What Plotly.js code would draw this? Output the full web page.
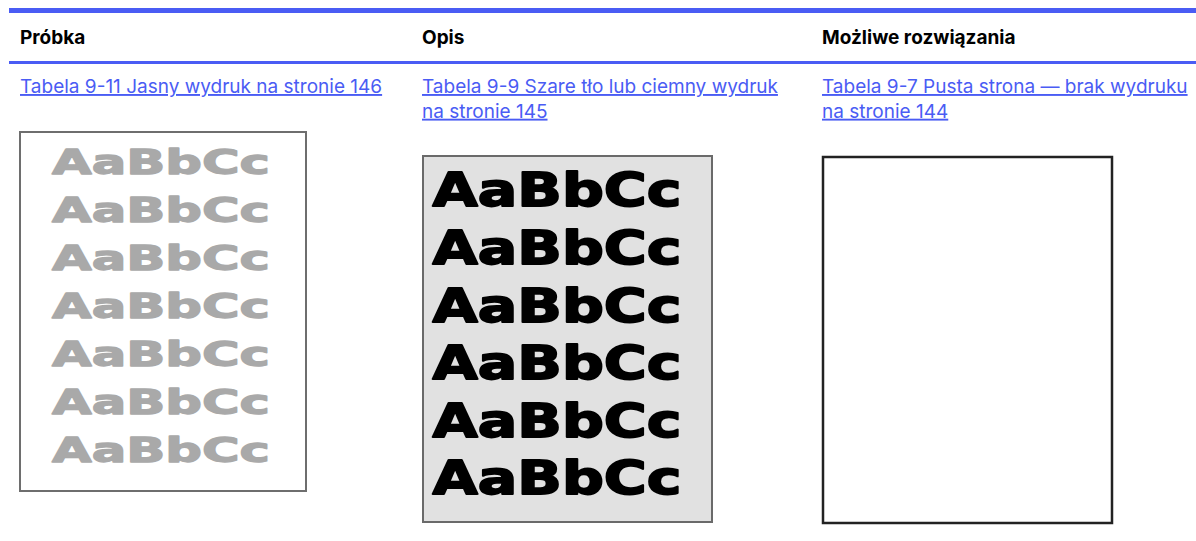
<!DOCTYPE html>
<html>
<head>
<meta charset="utf-8">
<script src="https://cdn.plot.ly/plotly-3.0.1.min.js"></script>
<style>
  html, body { margin: 0; padding: 0; background: #ffffff; }
  #chart { width: 1196px; height: 541px; }
</style>
</head>
<body>
<div id="chart"></div>
<script>
// ---------- DATA ----------
const columnHeaders = ['Próbka', 'Opis', 'Możliwe rozwiązania'];
const linkTexts = [
  'Tabela 9-11 Jasny wydruk na stronie 146',
  'Tabela 9-9 Szare tło lub ciemny wydruk<br>na stronie 145',
  'Tabela 9-7 Pusta strona — brak wydruku<br>na stronie 144'
];
const sampleText = 'AaBbCc';
const sampleRowCounts = [7, 6, 0];
const sampleInk = ['#a9a9a9', '#000000', '#000000'];
const samplePaper = ['#ffffff', '#e1e1e1', '#ffffff'];

// ---------- LAYOUT / STYLE ----------
const W = 1196, H = 541;
const BLUE = '#4a5cf4';
const colX = [18, 420, 820];
const boxes = [
  { x0: 20,  x1: 306,  y0: 132, y1: 491, border: '#6e6e6e', lw: 2 },
  { x0: 423, x1: 712,  y0: 156, y1: 522, border: '#6a6a6a', lw: 2 },
  { x0: 823, x1: 1112, y0: 157, y1: 523, border: '#222222', lw: 2.5 }
];
const rowFirst = [166, 195, 0];
const rowStep = [48, 57.6, 0];
const sampleCenterX = [161, 557, 0];
const sampleFontSize = [34, 46, 0];
const sampleTargetW = [218, 249, 0];
const sampleStroke = [1.3, 1.8, 0];

const traces = [];
const traceCols = [];
sampleRowCounts.forEach((n, c) => {
  if (!n) return;
  const idx = Array.from({ length: n }, (_, i) => i);
  traces.push({
    type: 'scatter',
    mode: 'text',
    x: idx.map(() => sampleCenterX[c]),
    y: idx.map(i => rowFirst[c] + i * rowStep[c]),
    text: idx.map(() => sampleText),
    textposition: 'middle center',
    textfont: { family: 'DejaVu Sans', size: sampleFontSize[c], color: sampleInk[c], weight: 700 },
    hoverinfo: 'skip',
    showlegend: false,
    cliponaxis: false
  });
  traceCols.push(c);
});

const shapes = [
  { type: 'rect', xref: 'x', yref: 'y', x0: 9, x1: W, y0: 8, y1: 13, fillcolor: BLUE, line: { width: 0 }, layer: 'below' },
  { type: 'rect', xref: 'x', yref: 'y', x0: 9, x1: W, y0: 61, y1: 64, fillcolor: BLUE, line: { width: 0 }, layer: 'below' }
];
boxes.forEach((b, c) => {
  shapes.push({
    type: 'rect', xref: 'x', yref: 'y', x0: b.x0, x1: b.x1, y0: b.y0, y1: b.y1,
    fillcolor: samplePaper[c], line: { color: b.border, width: b.lw }, layer: 'below'
  });
});

const annotations = [];
columnHeaders.forEach((t, c) => {
  annotations.push({
    xref: 'x', yref: 'y', x: colX[c], y: 37, xanchor: 'left', yanchor: 'middle',
    text: t, showarrow: false, align: 'left',
    font: { family: 'Inter', size: 19, color: '#000000', weight: 700 }
  });
});
linkTexts.forEach((t, c) => {
  annotations.push({
    xref: 'x', yref: 'y', x: colX[c], y: 73, xanchor: 'left', yanchor: 'top',
    text: t, showarrow: false, align: 'left',
    font: { family: 'Inter', size: 19, color: BLUE, lineposition: 'under' }
  });
});

const layout = {
  width: W, height: H,
  margin: { l: 0, r: 0, t: 0, b: 0, pad: 0 },
  paper_bgcolor: '#ffffff', plot_bgcolor: '#ffffff',
  xaxis: { range: [0, W], visible: false, fixedrange: true },
  yaxis: { range: [H, 0], visible: false, fixedrange: true },
  shapes, annotations, showlegend: false
};

function stretchSamples() {
  const el = document.getElementById('chart');
  const trs = el.querySelectorAll('.scatterlayer .trace');
  trs.forEach((tr, k) => {
    const c = traceCols[k];
    const target = sampleTargetW[c];
    tr.querySelectorAll('.textpoint text').forEach(t => {
      t.removeAttribute('transform');
      t.style.stroke = sampleInk[c];
      t.style.strokeWidth = sampleStroke[c] + 'px';
      t.style.strokeLinejoin = 'round';
      const bb = t.getBBox();
      if (!bb.width) return;
      const s = target / bb.width;
      const cx = bb.x + bb.width / 2;
      t.setAttribute('transform', 'matrix(' + s + ',0,0,1,' + (cx * (1 - s)) + ',0)');
    });
  });
}

Plotly.newPlot('chart', traces, layout, { staticPlot: true, displayModeBar: false }).then(gd => {
  stretchSamples();
  gd.on('plotly_afterplot', stretchSamples);
});
</script>
</body>
</html>
